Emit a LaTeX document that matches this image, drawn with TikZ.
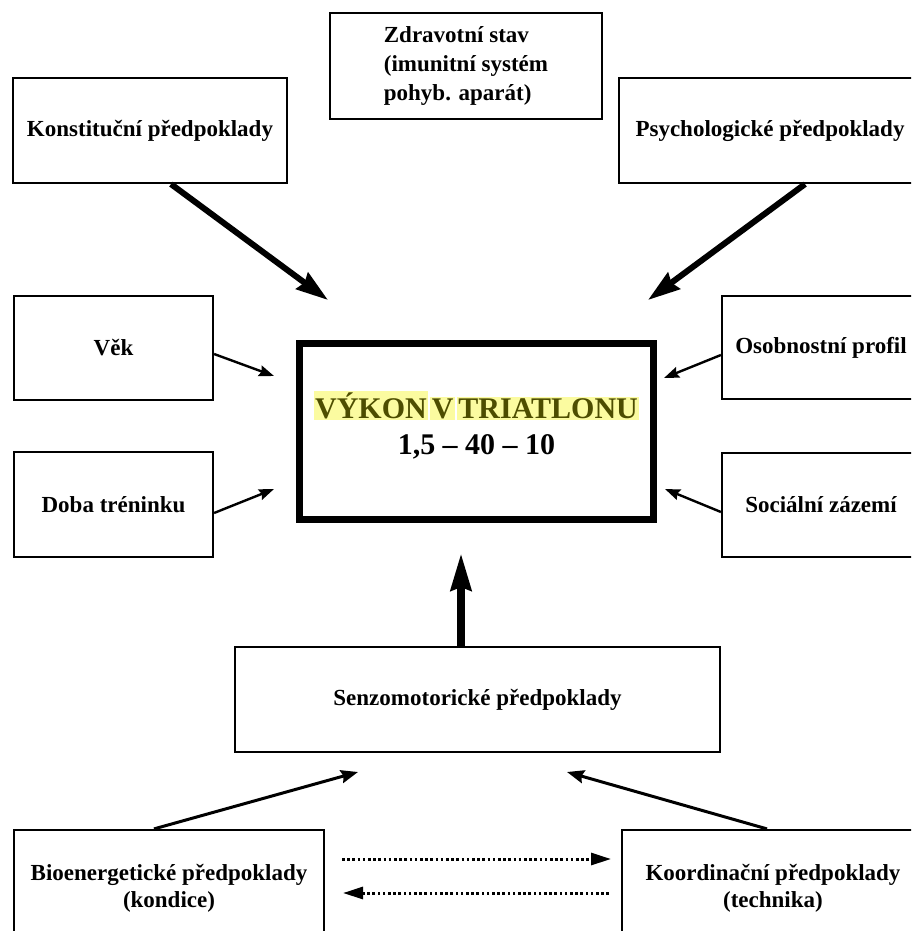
\documentclass[tikz,border=0pt]{standalone}
\usepackage{fontspec}
\setmainfont{Liberation Serif}
\usetikzlibrary{arrows.meta,calc}
\definecolor{hlyellow}{HTML}{FBFBA0}
\definecolor{olivetext}{HTML}{4D4D00}
\begin{document}
\begin{tikzpicture}[x=1pt,y=-1pt,
  box/.style={draw=black,line width=2.2pt,fill=white,inner sep=0pt,align=center,
    font=\fontsize{23}{29}\selectfont\bfseries},
  mainbox/.style={draw=black,line width=7pt,fill=white,inner sep=0pt},
  thickarrow/.style={line width=6pt,-{Stealth[length=32pt,width=20pt,inset=3pt]}},
  thinarrow/.style={line width=2.4pt,-{Stealth[length=15pt,width=11pt,inset=2pt]}},
  midarrow/.style={line width=3pt,-{Stealth[length=17pt,width=13pt,inset=2pt]}},
  uparrow/.style={line width=8pt,-{Stealth[length=37pt,width=20pt,inset=3pt]}},
  dotarrow/.style={line width=3pt,dash pattern=on 2.6pt off 2.6pt,-{Triangle[length=20pt,width=12pt]}},
]
\useasboundingbox (0,0) rectangle (911,931);
\clip (0,0) rectangle (911,931);
\fill[white] (0,0) rectangle (911,931);

% boxes
\node[box,minimum width=272pt,minimum height=106pt,align=left] (zdrav) at (466,66)
  {Zdravotní stav\\(imunitní systém\\pohyb. aparát)};
\node[box,minimum width=274pt,minimum height=105pt] (konst) at (150,130.5) {Konstituční předpoklady};
\node[box,minimum width=302pt,minimum height=105pt] (psych) at (770,130.5) {Psychologické předpoklady};
\node[box,minimum width=199pt,minimum height=104pt] (vek) at (113.5,348) {Věk};
\node[box,minimum width=199pt,minimum height=105pt] (doba) at (113.5,504.5) {Doba tréninku};
\node[box,minimum width=198pt,minimum height=103pt] (osob) at (821,347.5) {Osobnostní profil};
\node[box,minimum width=198pt,minimum height=104pt] (soc) at (821,505) {Sociální zázemí};
\node[mainbox,minimum width=354pt,minimum height=176pt] (vykon) at (476.5,431.5) {};
\node[align=center,inner sep=0pt,font=\fontsize{30}{36}\selectfont\bfseries] (vykontext) at (476.5,425)
  {{\setlength{\fboxsep}{1.5pt}\color{olivetext}\colorbox{hlyellow}{VÝKON}\hspace{2pt}\colorbox{hlyellow}{V}\hspace{2pt}\colorbox{hlyellow}{TRIATLONU}}\\1,5 – 40 – 10};
\node[box,minimum width=485pt,minimum height=105pt] (senzo) at (477.5,699.5) {Senzomotorické předpoklady};
\node[box,minimum width=310pt,minimum height=116pt,font=\fontsize{23}{27}\selectfont\bfseries] (bio) at (169,888)
  {Bioenergetické předpoklady\\(kondice)};
\node[box,minimum width=302pt,minimum height=116pt,font=\fontsize{23}{27}\selectfont\bfseries] (koord) at (773,888)
  {Koordinační předpoklady\\(technika)};

% free arrow ends
\coordinate (konstEnd) at (328,300);
\coordinate (psychEnd) at (648,300);
\coordinate (vekEnd) at (274,376);
\coordinate (dobaEnd) at (274,489);
\coordinate (osobEnd) at (664,378);
\coordinate (socEnd) at (665,489);
\coordinate (senzoEnd) at (461,553);
\coordinate (bioEnd) at (358,772);
\coordinate (koordEnd) at (567,772);
\coordinate (d1s) at (342,859);
\coordinate (d1e) at (611,859);
\coordinate (d2s) at (609,893);
\coordinate (d2e) at (343,893);

% arrows
\draw[thickarrow] ($(konst.south)+(21,0)$) -- (konstEnd);
\draw[thickarrow] ($(psych.south)+(35,0)$) -- (psychEnd);
\draw[thinarrow] ($(vek.east)+(0,6)$) -- (vekEnd);
\draw[thinarrow] ($(doba.east)+(0,8.5)$) -- (dobaEnd);
\draw[thinarrow] ($(osob.west)+(0,7.5)$) -- (osobEnd);
\draw[thinarrow] ($(soc.west)+(0,7)$) -- (socEnd);
\draw[uparrow] ($(senzo.north)+(-16.5,0)$) -- (senzoEnd);
\draw[midarrow] ($(bio.north)+(-15,0)$) -- (bioEnd);
\draw[midarrow] ($(koord.north)+(-6,0)$) -- (koordEnd);
\draw[dotarrow] (d1s) -- (d1e);
\draw[dotarrow] (d2s) -- (d2e);
\end{tikzpicture}
\end{document}
